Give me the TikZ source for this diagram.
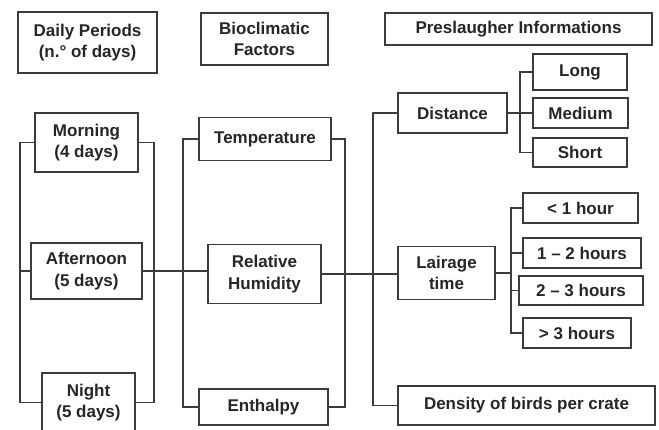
\documentclass[tikz,border=0pt]{standalone}
\usepackage{fontspec}
\setmainfont{Liberation Sans}
\usepackage{tikz}
\usetikzlibrary{
	positioning
}
\definecolor{linegray}{HTML}{3C3C3C}

\begin{document}
\begin{tikzpicture}[x=1pt,y=-1pt,
	box/.style={draw=linegray,line width=1.6pt,align=center,inner sep=0pt,
		text=black!85,font=\bfseries\fontsize{17}{21.5}\selectfont},
	sz/.style 2 args={minimum width=#1pt,minimum height=#2pt},
	wire/.style={draw=linegray,line width=1.6pt}]
	\useasboundingbox (0,0) rectangle (659,429);
	% headers
	\draw
		node [box,sz={139}{61}] (daily) at (87.5,42.5)  {Daily Periods\\(n.° of days)}
		node [box,sz={127}{52}] (bio)   at (264.5,39)   {Bioclimatic\\Factors}
		node [box,sz={267}{32}] (pre)   at (518.5,29)   {Preslaugher Informations}
	;
	% daily periods
	\draw
		node [box,sz={103}{59}] (morning)   at (86.5,142.5) {Morning\\(4 days)}
		node [box,sz={111}{56}] (afternoon) at (86.5,271)   {Afternoon\\(5 days)}
		node [box,sz={93}{59}]  (night)     at (88.5,402.5) {Night\\(5 days)}
	;
	% bioclimatic factors
	\draw
		node [box,sz={132}{43}] (temp)     at (265,139)   {Temperature}
		node [box,sz={113}{59}] (relhum)   at (264.5,274) {Relative\\Humidity}
		node [box,sz={129}{36}] (enthalpy) at (263.5,407) {Enthalpy}
	;
	% preslaughter
	\draw
		node [box,sz={109}{40}] (distance) at (452.5,113)   {Distance}
		node [box,sz={97}{53}]  (lairage)  at (446.5,273)   {Lairage\\time}
		node [box,sz={257}{39}] (density)  at (526.5,405.5) {Density of birds per crate}
		node [box,sz={94}{36}]  (long)     at (580,72)      {Long}
		node [box,sz={95}{30}]  (medium)   at (580.5,113)   {Medium}
		node [box,sz={94}{29}]  (short)    at (580,152.5)   {Short}
		node [box,sz={115}{30}] (h1)       at (580.5,208)   {< 1 hour}
		node [box,sz={118}{30}] (h2)       at (582,253)     {1 – 2 hours}
		node [box,sz={124}{29}] (h3)       at (581,290.5)   {2 – 3 hours}
		node [box,sz={108}{30}] (h4)       at (577,333)     {> 3 hours}
	;
	% bracket columns
	\coordinate (b1) at (20,0);
	\coordinate (b2) at (154,0);
	\coordinate (b3) at (183,0);
	\coordinate (b4) at (345,0);
	\coordinate (b5) at (373,0);
	\coordinate (b6) at (511,0);
	\coordinate (b7) at (520,0);
	% connectors
	\draw[wire] (morning.west) -- (morning.west -| b1) -- (night.west -| b1) -- (night.west);
	\draw[wire] (afternoon.west) -- (afternoon.west -| b1);
	\draw[wire] (morning.east) -- (morning.east -| b2) -- (night.east -| b2) -- (night.east);
	\draw[wire] (afternoon.east) -- (afternoon.east -| relhum.west);
	\draw[wire] (temp.west) -- (temp.west -| b3) -- (enthalpy.west -| b3) -- (enthalpy.west);
	\draw[wire] (temp.east) -- (temp.east -| b4) -- (enthalpy.east -| b4) -- (enthalpy.east);
	\draw[wire] (relhum.east) -- (relhum.east -| lairage.west);
	\draw[wire] (distance.west) -- (distance.west -| b5) -- (density.west -| b5) -- (density.west);
	\draw[wire] (distance.east) -- (medium.west);
	\draw[wire] (long.west) -- (long.west -| b7) -- (short.west -| b7) -- (short.west);
	\draw[wire] (lairage.east) -- (lairage.east -| b6);
	\draw[wire] (h1.west) -- (h1.west -| b6) -- (h4.west -| b6) -- (h4.west);
	\draw[wire] (h2.west) -- (h2.west -| b6);
	\draw[wire] (h3.west) -- (h3.west -| b6);
\end{tikzpicture}
\end{document}
